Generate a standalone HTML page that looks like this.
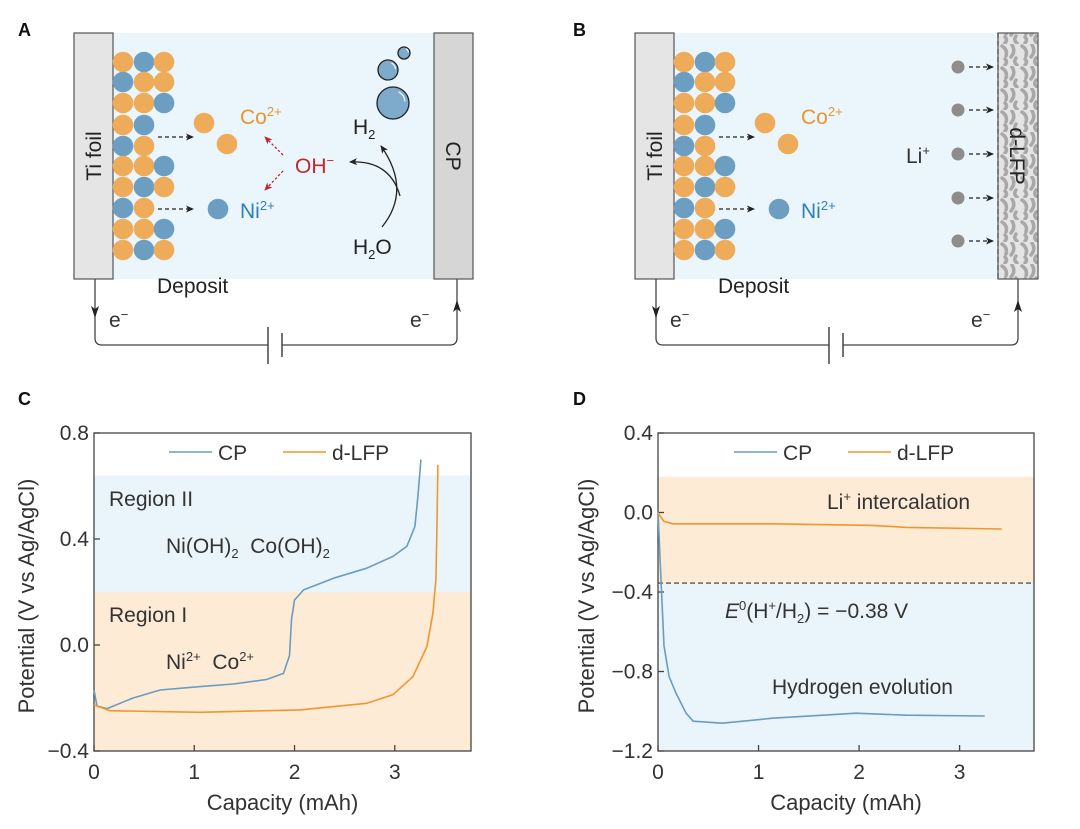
<!DOCTYPE html>
<html><head><meta charset="utf-8">
<style>
body{margin:0;background:#fff;width:1080px;height:829px;overflow:hidden;font-family:"Liberation Sans",Arial,sans-serif;}
svg{position:absolute;left:0;top:0;}
text{font-family:"Liberation Sans",Arial,sans-serif;}
</style></head>
<body>
<svg id="fig" width="1080" height="829" viewBox="0 0 1080 829">
<defs>
<marker id="ah" markerWidth="8" markerHeight="8" refX="7" refY="4" orient="auto" markerUnits="userSpaceOnUse"><path d="M0,0.5 L8,4 L0,7.5 L2,4 Z" fill="#222"/></marker>
<marker id="ahr" markerWidth="8" markerHeight="8" refX="7" refY="4" orient="auto" markerUnits="userSpaceOnUse"><path d="M0,0.5 L8,4 L0,7.5 L2,4 Z" fill="#c0282e"/></marker>
<pattern id="lfp" width="20" height="22" patternUnits="userSpaceOnUse">
<rect width="20" height="22" fill="#e4e4e4"/>
<path d="M2,2 q6,4 4,10 M12,1 q4,6 -1,12 M16,14 q-3,4 1,7 M5,15 q3,3 0,6" stroke="#a8a8a8" stroke-width="3.5" fill="none" stroke-linecap="round"/>
</pattern>
</defs>
<g id="panelA"></g>
<g id="panelB"></g>
<g id="chartC"></g>
<g id="chartD"></g>
</svg>
<script>
// ---- Chart C data ----
const cCpCap = [0,0.03,0.13,0.39,0.66,1.06,1.39,1.72,1.89,1.95,1.97,2.0,2.09,2.39,2.72,2.98,3.12,3.2,3.23,3.26];
const cCpV = [-0.17,-0.23,-0.24,-0.20,-0.17,-0.157,-0.147,-0.13,-0.107,-0.04,0.095,0.17,0.208,0.252,0.29,0.334,0.372,0.447,0.56,0.70];
const cLfpCap = [0,0.16,1.06,2.05,2.72,2.98,3.18,3.32,3.38,3.41,3.42,3.43];
const cLfpV = [-0.226,-0.248,-0.254,-0.245,-0.22,-0.188,-0.12,-0.006,0.12,0.246,0.435,0.68];
const cXTicks = [0,1,2,3];
const cYTicks = [0.8,0.4,0.0,-0.4];
const cYTickLabels = ["0.8","0.4","0.0","\u22120.4"];
const cRegions = [0.64,0.2];
// ---- Chart D data ----
const dCpCap = [0,0.03,0.06,0.11,0.18,0.28,0.35,0.64,1.14,1.64,1.97,2.47,3.25];
const dCpV = [0.005,-0.34,-0.67,-0.825,-0.91,-1.01,-1.05,-1.06,-1.035,-1.02,-1.01,-1.02,-1.024];
const dLfpCap = [0,0.06,0.15,1.14,2.14,2.47,3.42];
const dLfpV = [-0.003,-0.045,-0.057,-0.057,-0.065,-0.075,-0.083];
const dXTicks = [0,1,2,3];
const dYTicks = [0.4,0.0,-0.4,-0.8,-1.2];
const dYTickLabels = ["0.4","0.0","\u22120.4","\u22120.8","\u22121.2"];
const dRegions = [0.18,-0.355];

const NS="http://www.w3.org/2000/svg";
function mk(parent,tag,attrs,txt){const e=document.createElementNS(NS,tag);for(const k in attrs)e.setAttribute(k,attrs[k]);if(txt!==undefined)e.textContent=txt;parent.appendChild(e);return e;}
const FS=21, SS=13;

// ---------- Schematics ----------
const depositRows=[["o","b","o"],["b","o","o"],["o","o","b"],["o","b",""],["b","o",""],["o","o","b"],["o","b","o"],["b","o",""],["o","o","b"],["o","b","o"]];
const rowY=[62,82,103,125,146,166,187,208,229,250];
const colX=[123,144,164];
const OR="#eeac5a", BL="#6c9ec2";
function schematic(g,dx,isB){
  const bg=mk(g,"rect",{x:113+dx,y:33,width:isB?998-(113+dx):321,height:246,fill:"#eaf6fb"});
  
  
  const ti=mk(g,"rect",{x:74+dx,y:33,width:39,height:246,fill:"#e5e5e5",stroke:"#555","stroke-width":1.2});
  
  
  mk(g,"text",{x:0,y:0,transform:`translate(${101+dx},156) rotate(-90)`,"text-anchor":"middle","font-size":FS,fill:"#222"},"Ti foil");
  depositRows.forEach((r,i)=>r.forEach((c,j)=>{if(!c)return;const ci=mk(g,"circle",{cx:colX[j]+dx,cy:rowY[i],r:10.3,fill:c==="o"?OR:BL});
    
    }));
  mk(g,"text",{x:157+dx,y:293,"font-size":FS,fill:"#222"},"Deposit");
  mk(g,"circle",{cx:204+dx,cy:123,r:10.3,fill:OR});
  mk(g,"circle",{cx:227+dx,cy:144,r:10.3,fill:OR});
  mk(g,"circle",{cx:218+dx,cy:209,r:10.3,fill:BL});
  mk(g,"line",{x1:158+dx,y1:137,x2:193+dx,y2:137,stroke:"#222","stroke-width":1.3,"stroke-dasharray":"4,3","marker-end":"url(#ah)"});
  mk(g,"line",{x1:158+dx,y1:209,x2:193+dx,y2:209,stroke:"#222","stroke-width":1.3,"stroke-dasharray":"4,3","marker-end":"url(#ah)"});
  const co=mk(g,"text",{x:240+dx,y:124,"font-size":FS,fill:"#e8962e"});co.innerHTML='Co<tspan font-size="'+SS+'" dy="-8">2+</tspan>';
  const ni=mk(g,"text",{x:240+dx,y:218,"font-size":FS,fill:"#2f7fb8"});ni.innerHTML='Ni<tspan font-size="'+SS+'" dy="-8">2+</tspan>';
  const x1=95+dx, x2=isB?1018:457;
  mk(g,"path",{d:`M${x1},279 V338 q0,7 7,7 H${268+dx}`,fill:"none",stroke:"#444","stroke-width":1.3});
  mk(g,"path",{d:`M${282+dx},345 H${x2-7} q7,0 7,-7 V279`,fill:"none",stroke:"#444","stroke-width":1.3});
  mk(g,"line",{x1:268+dx,y1:327,x2:268+dx,y2:364,stroke:"#444","stroke-width":1.5});
  mk(g,"line",{x1:282+dx,y1:333,x2:282+dx,y2:357,stroke:"#444","stroke-width":1.5});
  mk(g,"path",{d:`M${x1-4},306 L${x1},318 L${x1+4},306 L${x1},309 Z`,fill:"#222"});
  mk(g,"path",{d:`M${x2-4},312 L${x2},300 L${x2+4},312 L${x2},309 Z`,fill:"#222"});
  const e1=mk(g,"text",{x:x1+14,y:327,"font-size":FS,fill:"#333"});e1.innerHTML='e<tspan font-size="'+SS+'" dy="-8">\u2212</tspan>';
  const e2=mk(g,"text",{x:x2-47,y:327,"font-size":FS,fill:"#333"});e2.innerHTML='e<tspan font-size="'+SS+'" dy="-8">\u2212</tspan>';
}
const A=document.getElementById("panelA");
mk(A,"text",{x:18,y:36,"font-size":18,"font-weight":"bold",fill:"#111"},"A");
schematic(A,0,false);
const cp=mk(A,"rect",{x:434,y:33,width:39,height:246,fill:"#d6d6d6",stroke:"#555","stroke-width":1.2});


mk(A,"text",{x:0,y:0,transform:"translate(446,156) rotate(90)","text-anchor":"middle","font-size":FS,fill:"#222"},"CP");
const oh=mk(A,"text",{x:295,y:173,"font-size":FS,fill:"#c0282e"});oh.innerHTML='OH<tspan font-size="'+SS+'" dy="-8">\u2212</tspan>';
mk(A,"line",{x1:283,y1:155,x2:265,y2:137,stroke:"#c0282e","stroke-width":1.3,"stroke-dasharray":"2.5,2","marker-end":"url(#ahr)"});
mk(A,"line",{x1:283,y1:171,x2:265,y2:190,stroke:"#c0282e","stroke-width":1.3,"stroke-dasharray":"2.5,2","marker-end":"url(#ahr)"});
const h2=mk(A,"text",{x:353,y:134,"font-size":FS,fill:"#222"});h2.innerHTML='H<tspan font-size="'+SS+'" dy="5">2</tspan>';
const h2o=mk(A,"text",{x:353,y:254,"font-size":FS,fill:"#222"});h2o.innerHTML='H<tspan font-size="'+SS+'" dy="5">2</tspan><tspan dy="-5">O</tspan>';
mk(A,"path",{d:"M382,227 Q412,190 381,146",fill:"none",stroke:"#222","stroke-width":1.3,"marker-end":"url(#ah)"});
mk(A,"path",{d:"M400,196 Q390,160 350,162",fill:"none",stroke:"#222","stroke-width":1.3,"marker-end":"url(#ah)"});
[[393,103,16],[388,70,10],[404,53,6]].forEach(b=>{const c=mk(A,"circle",{cx:b[0],cy:b[1],r:b[2],fill:"#7eaacb",stroke:"#222","stroke-width":1.3});
 
 
 mk(A,"path",{d:`M${b[0]+b[2]*0.35},${b[1]-b[2]*0.7} A${b[2]*0.75},${b[2]*0.75} 0 0 1 ${b[0]+b[2]*0.75},${b[1]-b[2]*0.1}`,fill:"none",stroke:"#fff","stroke-width":1.2});});

const B=document.getElementById("panelB");
mk(B,"text",{x:573,y:36,"font-size":18,"font-weight":"bold",fill:"#111"},"B");
schematic(B,561,true);
const lfp=mk(B,"rect",{x:998,y:33,width:40,height:246,fill:"url(#lfp)",stroke:"#555","stroke-width":1.2});


mk(B,"line",{x1:998,y1:33,x2:998,y2:279,stroke:"#444","stroke-width":1.2,"stroke-dasharray":"5,3"});
mk(B,"text",{x:0,y:0,transform:"translate(1010,156) rotate(90)","text-anchor":"middle","font-size":FS,fill:"#222"},"d-LFP");
const li=mk(B,"text",{x:906,y:163,"font-size":FS,fill:"#333"});li.innerHTML='Li<tspan font-size="'+SS+'" dy="-8">+</tspan>';
[67,110,154,198,241].forEach(y=>{const c=mk(B,"circle",{cx:958,cy:y,r:6.5,fill:"#8d8d8d"});
 
 
 mk(B,"line",{x1:969,y1:y,x2:993,y2:y,stroke:"#222","stroke-width":1.3,"stroke-dasharray":"4,3","marker-end":"url(#ah)"});});

// ---------- Charts ----------
function chart(g,o){
  const X=v=>o.l+(v-o.x0)*(o.r-o.l)/(o.x1-o.x0);
  const Y=v=>o.b-(v-o.y0)*(o.b-o.t)/(o.y1-o.y0);
  mk(g,"text",{x:o.lx,y:405,"font-size":18,"font-weight":"bold",fill:"#111"},o.letter);
  o.fills.forEach(f=>{const r=mk(g,"rect",{x:o.l,y:Y(f[0]),width:o.r-o.l,height:Y(f[1])-Y(f[0]),fill:f[2]});
    
    });
  if(o.dash!==undefined){const d=mk(g,"line",{x1:o.l,x2:o.r,y1:Y(o.dash),y2:Y(o.dash),stroke:"#333","stroke-width":1.2,"stroke-dasharray":"5,3"});
    
    }
  const ax=mk(g,"rect",{x:o.l,y:o.t,width:o.r-o.l,height:o.b-o.t,fill:"none",stroke:"#444","stroke-width":1.3});
  
  
  o.xt.forEach(v=>{mk(g,"line",{x1:X(v),x2:X(v),y1:o.b,y2:o.b-6,stroke:"#444","stroke-width":1.3});
    const t=mk(g,"text",{x:X(v),y:o.b+28,"text-anchor":"middle","font-size":FS,fill:"#333"},String(v));
    
    });
  o.yt.forEach((v,i)=>{mk(g,"line",{x1:o.l,x2:o.l+6,y1:Y(v),y2:Y(v),stroke:"#444","stroke-width":1.3});
    const t=mk(g,"text",{x:o.l-5,y:Y(v)+7,"text-anchor":"end","font-size":FS,fill:"#333"},o.ytl[i]);
    
    });
  const xt=mk(g,"text",{x:(o.l+o.r)/2,y:810,"text-anchor":"middle","font-size":22,fill:"#333"},"Capacity (mAh)");
  
  
  const yt=mk(g,"text",{x:0,y:0,transform:`translate(${o.ytx},${(o.t+o.b)/2+4}) rotate(-90)`,"text-anchor":"middle","font-size":22,fill:"#333"},"Potential (V vs Ag/AgCl)");
  
  
  o.series.forEach(s=>{const p=mk(g,"path",{d:s.x.map((v,i)=>(i?"L":"M")+X(v).toFixed(1)+","+Y(s.y[i]).toFixed(1)).join(""),fill:"none",stroke:s.c,"stroke-width":1.6,"stroke-linejoin":"round"});
    
    });
  const lg=mk(g,"g",{});
  
  
  mk(lg,"line",{x1:o.lg,x2:o.lg+43,y1:452,y2:452,stroke:"#6a9cc0","stroke-width":1.6});
  mk(lg,"text",{x:o.lg+49,y:460,"font-size":FS,fill:"#333"},"CP");
  mk(lg,"line",{x1:o.lg+114,x2:o.lg+157,y1:452,y2:452,stroke:"#f0962e","stroke-width":1.6});
  mk(lg,"text",{x:o.lg+163,y:460,"font-size":FS,fill:"#333"},"d-LFP");
  return {X,Y};
}
const C=document.getElementById("chartC");
chart(C,{letter:"C",lx:18,l:94,r:471,t:433,b:751,x0:0,x1:3.76,y0:-0.4,y1:0.8,xt:cXTicks,yt:cYTicks,ytl:cYTickLabels,ytx:34,lg:169,
  fills:[[cRegions[0],cRegions[1],"#e9f5fb","region-ii-band"],[cRegions[1],-0.4,"#fdebd6","region-i-band"]],
  series:[{x:cCpCap,y:cCpV,c:"#6a9cc0",n:"cp-curve"},{x:cLfpCap,y:cLfpV,c:"#f0962e",n:"d-lfp-curve"}]});
mk(C,"text",{x:109,y:506,"font-size":FS,fill:"#333"},"Region II");
const cn1=mk(C,"text",{x:166,y:553,"font-size":FS,fill:"#333"});cn1.innerHTML='Ni(OH)<tspan font-size="'+SS+'" dy="5">2</tspan><tspan dy="-5" xml:space="preserve">  Co(OH)</tspan><tspan font-size="'+SS+'" dy="5">2</tspan>';
mk(C,"text",{x:109,y:622,"font-size":FS,fill:"#333"},"Region I");
const cn2=mk(C,"text",{x:166,y:669,"font-size":FS,fill:"#333"});cn2.innerHTML='Ni<tspan font-size="'+SS+'" dy="-8">2+</tspan><tspan dy="8" xml:space="preserve">  Co</tspan><tspan font-size="'+SS+'" dy="-8">2+</tspan>';

const D=document.getElementById("chartD");
chart(D,{letter:"D",lx:573,l:658,r:1034,t:433,b:751,x0:0,x1:3.74,y0:-1.2,y1:0.4,xt:dXTicks,yt:dYTicks,ytl:dYTickLabels,ytx:594,lg:734,
  fills:[[dRegions[0],dRegions[1],"#fdebd6","li-intercalation-band"],[dRegions[1],-1.2,"#e9f5fb","hydrogen-evolution-band"]],dash:dRegions[1],
  series:[{x:dCpCap,y:dCpV,c:"#6a9cc0",n:"cp-curve"},{x:dLfpCap,y:dLfpV,c:"#f0962e",n:"d-lfp-curve"}]});
const li2=mk(D,"text",{x:827,y:509,"font-size":FS,fill:"#333"});li2.innerHTML='Li<tspan font-size="'+SS+'" dy="-8">+</tspan><tspan dy="8"> intercalation</tspan>';
const e0=mk(D,"text",{x:725,y:618,"font-size":FS,fill:"#333"});e0.innerHTML='<tspan font-style="italic">E</tspan><tspan font-size="'+SS+'" dy="-8">0</tspan><tspan dy="8">(H</tspan><tspan font-size="'+SS+'" dy="-8">+</tspan><tspan dy="8">/H</tspan><tspan font-size="'+SS+'" dy="5">2</tspan><tspan dy="-5">) = \u22120.38 V</tspan>';
mk(D,"text",{x:772,y:694,"font-size":FS,fill:"#333"},"Hydrogen evolution");
</script>
</body></html>
